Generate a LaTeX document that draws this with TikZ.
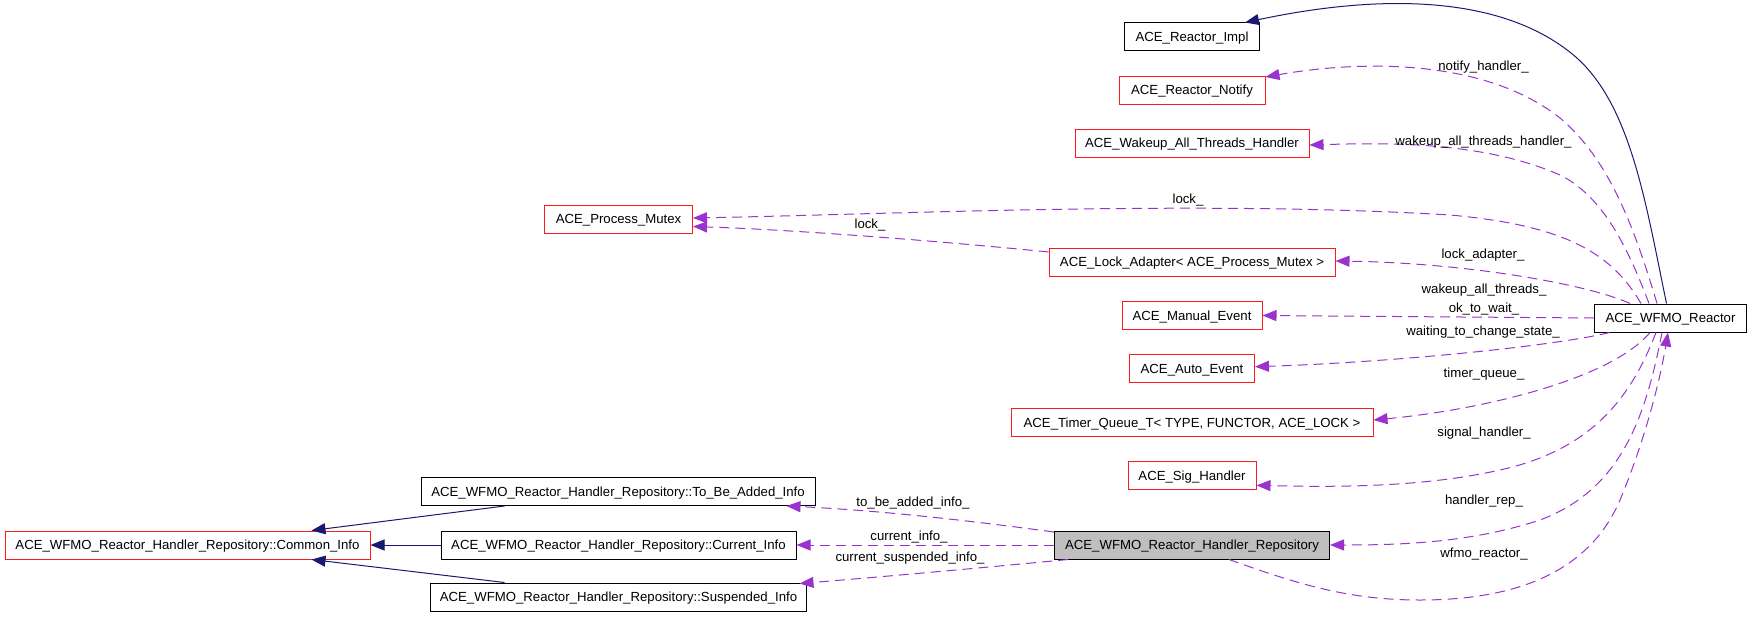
\documentclass[tikz,border=0pt]{standalone}
\usepackage{fontspec}
\setmainfont{Liberation Sans}
\usetikzlibrary{arrows.meta,calc}
\definecolor{edgep}{HTML}{9A32CD}
\definecolor{edgen}{HTML}{191970}
\definecolor{boxred}{HTML}{FF1A1A}
\definecolor{repofill}{HTML}{BFBFBF}
\begin{document}
\begin{tikzpicture}[x=1pt,y=-1pt,
  every node/.style={font=\fontsize{13.2}{15}\selectfont},
  cls/.style={draw, line width=1pt, minimum height=28pt, inner sep=0pt, text height=9.5pt, text depth=0pt, anchor=center},
  redbox/.style={cls, draw=boxred},
  blkbox/.style={cls, draw=black},
  repobox/.style={cls, draw=black, fill=repofill},
  use/.style={draw=edgep, line width=1pt, dash pattern=on 10pt off 6pt, -{Triangle[length=14pt,width=11pt]}},
  inh/.style={draw=edgen, line width=1pt, -{Triangle[length=14pt,width=11pt]}},
  lbl/.style={inner sep=0pt, text height=9.5pt, text depth=0pt}
]
\useasboundingbox (0,0) rectangle (1752,618);

% class nodes
\node[blkbox, minimum width=135pt] (impl) at (1192,37) {ACE\_Reactor\_Impl};
\node[redbox, minimum width=146pt] (notify) at (1192,90) {ACE\_Reactor\_Notify};
\node[redbox, minimum width=234pt] (wakeup) at (1192,143) {ACE\_Wakeup\_All\_Threads\_Handler};
\node[redbox, minimum width=148pt] (pmutex) at (618.5,219) {ACE\_Process\_Mutex};
\node[redbox, minimum width=286pt] (lockad) at (1192,262) {ACE\_Lock\_Adapter< ACE\_Process\_Mutex >};
\node[redbox, minimum width=140pt] (manual) at (1192,315.5) {ACE\_Manual\_Event};
\node[redbox, minimum width=125pt] (auto) at (1192,368.7) {ACE\_Auto\_Event};
\node[redbox, minimum width=362pt] (timerq) at (1192,422.5) {ACE\_Timer\_Queue\_T< TYPE, FUNCTOR, ACE\_LOCK >};
\node[redbox, minimum width=128pt] (sig) at (1192,475.3) {ACE\_Sig\_Handler};
\node[repobox, minimum width=275pt] (repo) at (1192,545) {ACE\_WFMO\_Reactor\_Handler\_Repository};
\node[blkbox, minimum width=152pt] (wfmo) at (1670.5,318) {ACE\_WFMO\_Reactor};
\node[blkbox, minimum width=394pt] (tba) at (618,491.5) {ACE\_WFMO\_Reactor\_Handler\_Repository::To\_Be\_Added\_Info};
\node[blkbox, minimum width=355pt] (cur) at (618.5,545) {ACE\_WFMO\_Reactor\_Handler\_Repository::Current\_Info};
\node[blkbox, minimum width=376pt] (susp) at (618.5,597) {ACE\_WFMO\_Reactor\_Handler\_Repository::Suspended\_Info};
\node[redbox, minimum width=365pt] (common) at (187.5,545) {ACE\_WFMO\_Reactor\_Handler\_Repository::Common\_Info};

% inheritance
\draw[inh] (wfmo.north) ++(-4,0) .. controls (1645,200) and (1630,100) .. (1571,53)
   .. controls (1491,-11) and (1360,-2) .. ($(impl.north east)+(-15,0)$);
\draw[inh] ($(tba.south west)+(84,0)$) -- ($(common.north west)+(307,0)$);
\draw[inh] (cur.west) -- (common.east);
\draw[inh] ($(susp.north west)+(74.5,0)$) -- ($(common.south west)+(307,0)$);

% usage edges
\draw[use] ($(wfmo.north)+(-13.5,0)$) .. controls (1635,230) and (1610,160) .. (1560,118)
   .. controls (1480,55) and (1350,62) .. ($(notify.east)+(0,-13)$);
\draw[use] ($(wfmo.north)+(-21.5,0)$) .. controls (1625,240) and (1600,195) .. (1560,175)
   .. controls (1480,140) and (1380,143) .. ($(wakeup.east)+(0,2)$);
\draw[use] ($(wfmo.north)+(-29.5,0)$) .. controls (1610,250) and (1560,225) .. (1450,215)
   .. controls (1200,200) and (900,214) .. ($(pmutex.east)+(0,-1)$);
\draw[use] ($(lockad.west)+(0,-10)$) .. controls (950,242) and (800,230) .. ($(pmutex.east)+(0,7.5)$);
\draw[use] ($(wfmo.north)+(-40.5,0)$) .. controls (1590,285) and (1470,263) .. ($(lockad.east)+(0,-1)$);
\draw[use] (wfmo.west) -- (manual.east);
\draw[use] ($(wfmo.south west)+(15.5,0)$) .. controls (1560,345) and (1400,362) .. ($(auto.east)+(0,-2)$);
\draw[use] ($(wfmo.south)+(-20.5,0)$) .. controls (1610,380) and (1480,410) .. ($(timerq.east)+(0,-2.5)$);
\draw[use] ($(wfmo.south)+(-14.5,0)$) .. controls (1630,400) and (1590,450) .. (1500,470)
   .. controls (1420,488) and (1330,487) .. ($(sig.east)+(0,10)$);
\draw[use] ($(wfmo.south)+(-8.5,0)$) .. controls (1645,420) and (1620,490) .. (1540,520)
   .. controls (1470,543) and (1400,545) .. (repo.east);
\draw[use] ($(repo.south east)+(-101,0)$) .. controls (1300,585) and (1350,600) .. (1420,600)
   .. controls (1520,600) and (1590,570) .. (1620,500)
   .. controls (1645,440) and (1660,380) .. ($(wfmo.south)+(-2.5,0)$);
\draw[use] ($(repo.west)+(0,-13)$) .. controls (950,518) and (870,510) .. ($(tba.south east)+(-29,0)$);
\draw[use] (repo.west) -- (cur.east);
\draw[use] ($(repo.south west)+(14,0)$) .. controls (980,568) and (880,577) .. ($(susp.north east)+(-7.5,1)$);

% edge labels
\node[lbl] (l1) at (1483.5,65.5) {notify\_handler\_};
\node[lbl] (l2) at (1483.5,140.5) {wakeup\_all\_threads\_handler\_};
\node[lbl] (l3) at (1188,199) {lock\_};
\node[lbl] (l4) at (870,224) {lock\_};
\node[lbl] (l5) at (1483,254) {lock\_adapter\_};
\node[lbl] (l6) at (1484,289) {wakeup\_all\_threads\_};
\node[lbl] (l7) at (1484,308) {ok\_to\_wait\_};
\node[lbl] (l8) at (1483,331) {waiting\_to\_change\_state\_};
\node[lbl] (l9) at (1484,373) {timer\_queue\_};
\node[lbl] (l10) at (1484,432) {signal\_handler\_};
\node[lbl] (l11) at (1484,500) {handler\_rep\_};
\node[lbl] (l12) at (1484,553) {wfmo\_reactor\_};
\node[lbl] (l13) at (913,502) {to\_be\_added\_info\_};
\node[lbl] (l14) at (909,536) {current\_info\_};
\node[lbl] (l15) at (910,557) {current\_suspended\_info\_};
\end{tikzpicture}
\end{document}
